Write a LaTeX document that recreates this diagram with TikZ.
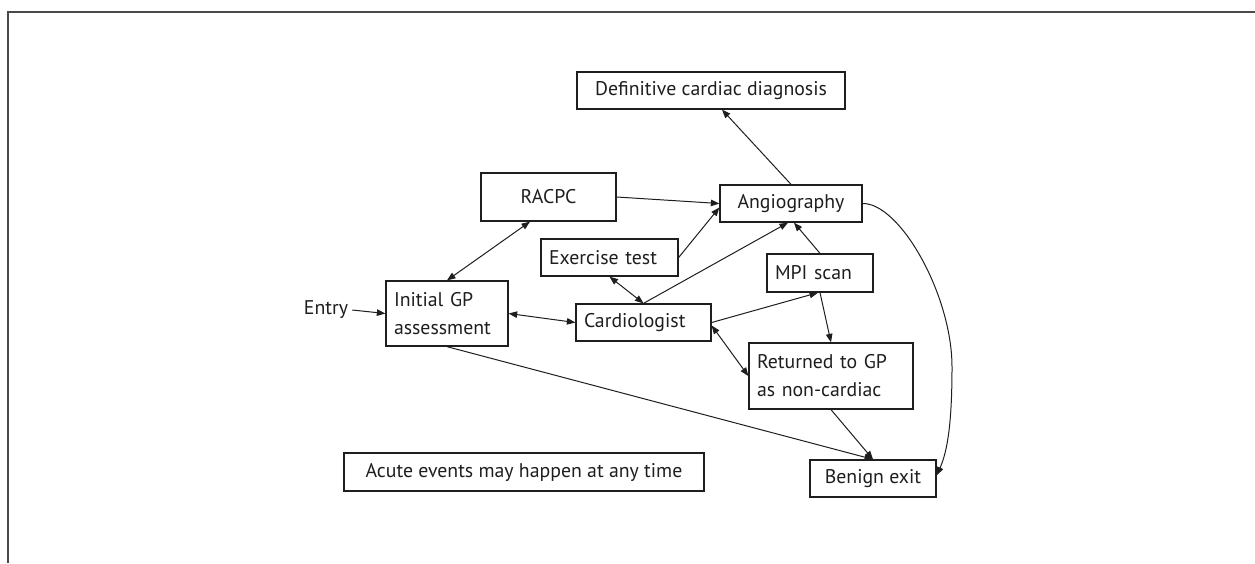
\documentclass[tikz,border=0pt]{standalone}
\usepackage{fontspec}
\setmainfont{PT Sans}
\usetikzlibrary{arrows.meta}
\definecolor{ink}{HTML}{1E1E1E}
\definecolor{framegray}{HTML}{4A4A4A}
\begin{document}
\begin{tikzpicture}[x=1pt,y=-1pt,
  every node/.style={text=ink, font=\fontsize{19.8pt}{28pt}\selectfont},
  cbox/.style={draw=ink, line width=1.3pt, inner xsep=8pt, inner ysep=0pt, align=center},
  lbox/.style={draw=ink, line width=1.3pt, inner xsep=8pt, inner ysep=0pt, align=left},
  conn/.style={draw=ink, line width=1pt, -{Triangle[length=8.5pt,width=6.5pt]}},
  dconn/.style={draw=ink, line width=1pt, {Triangle[length=8.5pt,width=6.5pt]}-{Triangle[length=8.5pt,width=6.5pt]}},
  framerule/.style={draw=framegray, line width=2pt}
]
\useasboundingbox (0,0) rectangle (1255,563);

% open frame: top and left rules only
\draw[framerule] (1255,11.5) -- (7.5,11.5) -- (7.5,563);

% boxes
\node[cbox, minimum width=268pt, minimum height=37pt] (def) at (711,90.5) {Definitive cardiac diagnosis};
\node[cbox, minimum width=135pt, minimum height=48pt] (racpc) at (548.5,197) {RACPC};
\node[cbox, minimum width=142pt, minimum height=37pt] (angio) at (791,203.5) {Angiography};
\node[lbox, text width=121pt, minimum height=37pt] (exer) at (609.5,257.5) {Exercise test};
\node[lbox, text width=106pt, minimum height=65pt] (gp) at (447,313.5) {Initial GP\\assessment};
\node[lbox, text width=119pt, minimum height=37pt] (card) at (643.5,322.5) {Cardiologist};
\node[lbox, text width=90pt, minimum height=38pt] (mpi) at (820,273) {MPI scan};
\node[lbox, text width=148pt, minimum height=66pt] (ret) at (831,376) {Returned to GP\\as non-cardiac};
\node[cbox, minimum width=126pt, minimum height=37pt] (benign) at (873,478.5) {Benign exit};
\node[cbox, minimum width=360pt, minimum height=38pt] (acute) at (524,472) {Acute events may happen at any time};
\node[inner xsep=4pt, inner ysep=0pt] (entry) at (326,310) {Entry};

% connectors
\draw[conn] (entry.east) -- (gp.west);
\draw[dconn] (gp.north) -- ([xshift=-18.5pt]racpc.south);
\draw[dconn] (gp.east) -- (card.west);
\draw[conn] (racpc.east) -- (angio.west);
\draw[conn] (exer.east) -- ([yshift=-4pt]angio.west);
\draw[conn] (card.north) -- ([xshift=-3pt]angio.south);
\draw[conn] (mpi.north) -- ([xshift=3pt]angio.south);
\draw[conn] (angio.north) -- ([xshift=11pt]def.south);
\draw[dconn] (exer.south) -- (card.north);
\draw[conn] (card.east) -- ([xshift=-2pt]mpi.south);
\draw[conn] (mpi.south) -- (ret.north);
\draw[dconn] ([yshift=-3pt]card.east) -- (ret.west);
\draw[conn] (gp.south) -- (benign.north);
\draw[conn] (ret.south) -- (benign.north);
\draw[conn] (angio.east) .. controls (900,203) and (952,295) .. (952,367)
  .. controls (952,420) and (948,450) .. ([yshift=3pt]benign.east);
\end{tikzpicture}
\end{document}
